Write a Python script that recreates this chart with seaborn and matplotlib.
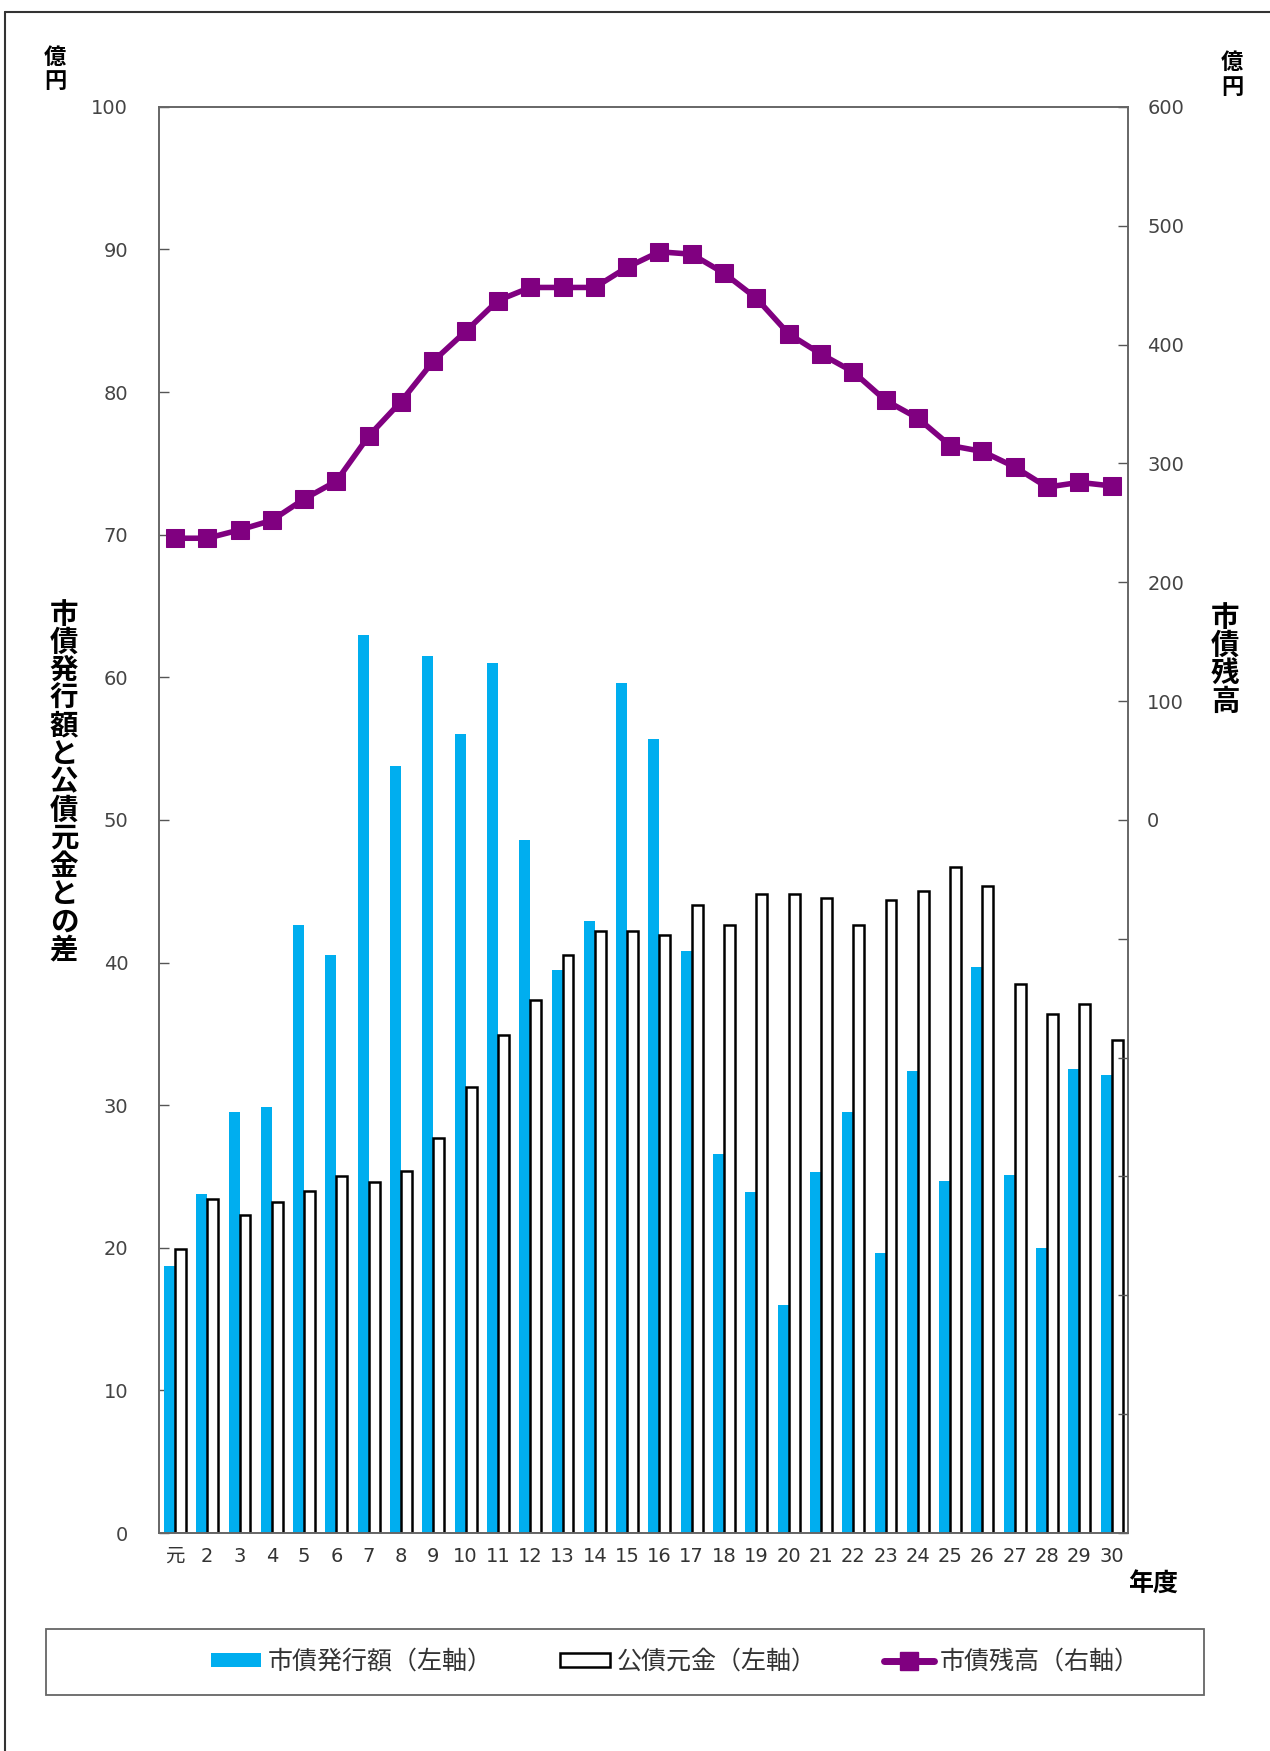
import numpy as np
import pandas as pd
import matplotlib
matplotlib.use("Agg")
import matplotlib.pyplot as plt
import seaborn as sns
from matplotlib.lines import Line2D
from matplotlib.patches import Patch, Rectangle

# 年度 labels (平成元年〜30年)
years = ["元"] + [str(i) for i in range(2, 31)]

# 市債発行額 (left axis, 億円)
issue = [18.7, 23.8, 29.5, 29.9, 42.6, 40.5, 63.0, 53.8, 61.5, 56.0,
         61.0, 48.6, 39.5, 42.9, 59.6, 55.7, 40.8, 26.6, 23.9, 16.0,
         25.3, 29.5, 19.6, 32.4, 24.7, 39.7, 25.1, 20.0, 32.5, 32.1]

# 公債元金 (left axis, 億円)
principal = [19.9, 23.4, 22.3, 23.2, 24.0, 25.0, 24.6, 25.4, 27.7, 31.3,
             34.9, 37.4, 40.5, 42.2, 42.2, 41.9, 44.0, 42.6, 44.8, 44.8,
             44.5, 42.6, 44.4, 45.0, 46.7, 45.4, 38.5, 36.4, 37.1, 34.6]

# 市債残高 (right axis, 億円)
balance = [237, 237, 244, 252, 270, 285, 323, 352, 386, 411,
           437, 448, 448, 448, 465, 478, 476, 460, 439, 409,
           392, 377, 353, 338, 315, 310, 297, 280, 284, 281]

s_issue = "市債発行額（左軸）"
s_princ = "公債元金（左軸）"
s_bal = "市債残高（右軸）"

BLUE = "#00AEEF"
PURPLE = "#800080"

sns.set_style("white")
plt.rcParams['font.family'] = ['DejaVu Sans', 'Noto Sans CJK JP']
jp = ['Noto Sans CJK JP', 'DejaVu Sans']

df = pd.DataFrame({
    "year": years * 2,
    "value": issue + principal,
    "series": [s_issue] * len(years) + [s_princ] * len(years),
})

fig = plt.figure(figsize=(12.7, 17.51), dpi=100)
ax = fig.add_axes([0.125, 0.1245, 0.763, 0.8145])

sns.barplot(data=df, x="year", y="value", hue="series", order=years,
            hue_order=[s_issue, s_princ], palette=[BLUE, "white"],
            width=0.68, dodge=True, legend=False, ax=ax, saturation=1)

n = len(years)
for i, p in enumerate(ax.patches[:2 * n]):
    if i < n:
        p.set_edgecolor("none")
    else:
        p.set_edgecolor("black")
        p.set_linewidth(1.8)

ax.set_xlim(-0.5, n - 0.5)
ax.set_ylim(0, 100)
ax.set_yticks(np.arange(0, 101, 10))
ax.set_xlabel("")
ax.set_ylabel("")
ax.tick_params(axis="y", direction="in", length=7, width=1, color="#555",
               labelsize=14, labelcolor="#444", pad=22)
ax.tick_params(axis="x", which="major", length=0, labelsize=14,
               labelcolor="#333", pad=10)
ax.set_xticks(np.arange(-0.5, n, 1), minor=True)
ax.tick_params(axis="x", which="minor", direction="in", length=4, color="#555")
for sp in ax.spines.values():
    sp.set_color("#666")
    sp.set_linewidth(1.2)

ax2 = ax.twinx()
sns.lineplot(x=np.arange(n), y=balance, ax=ax2, color=PURPLE, linewidth=4,
             marker="s", markersize=13, markeredgecolor=PURPLE)
ax2.set_ylim(-600, 600)
rt = np.arange(-600, 601, 100)
ax2.set_yticks(rt)
ax2.set_yticklabels([str(v) if v >= 0 else "" for v in rt])
ax2.tick_params(axis="y", direction="in", length=7, width=1, color="#555",
                labelsize=14, labelcolor="#444", pad=14)
for sp in ax2.spines.values():
    sp.set_color("#666")
    sp.set_linewidth(1.2)

# axis titles (vertical stacked text)
fig.text(0.0504, 0.553, "\n".join("市債発行額と公債元金との差"), family=jp,
         fontsize=20.5, fontweight="bold", color="black",
         ha="center", va="center", linespacing=1.0)
fig.text(0.9646, 0.623, "\n".join("市債残高"), family=jp,
         fontsize=20.5, fontweight="bold", color="black",
         ha="center", va="center", linespacing=1.0)
fig.text(0.0433, 0.974, "億\n円", family=jp, fontsize=16, fontweight="bold",
         color="black", ha="center", va="top", linespacing=1.1)
fig.text(0.970, 0.971, "億\n円", family=jp, fontsize=16, fontweight="bold",
         color="black", ha="center", va="top", linespacing=1.1)
fig.text(0.908, 0.095, "年度", family=jp, fontsize=18, fontweight="bold",
         color="black", ha="center", va="center")

# outer frame
fig.add_artist(Line2D([0.004, 0.004], [0.0, 0.993], color="#333", lw=1.5))
fig.add_artist(Line2D([0.004, 1.0], [0.993, 0.993], color="#333", lw=1.5))

# legend box
fig.add_artist(Rectangle((46 / 1270, 1 - 1695 / 1751), (1204 - 46) / 1270, 66 / 1751,
                         transform=fig.transFigure, fill=False, edgecolor="#666", lw=1.3))
handles = [
    Patch(facecolor=BLUE, edgecolor="none"),
    Patch(facecolor="white", edgecolor="black", linewidth=1.8),
    Line2D([0], [0], color=PURPLE, lw=5, marker="s", markersize=13),
]
leg = fig.legend(handles, [s_issue, s_princ, s_bal], loc="center",
                 bbox_to_anchor=(0.532, 1 - 1662 / 1751), ncol=3, frameon=False,
                 prop={"family": jp, "size": 18}, handlelength=2.0,
                 handleheight=0.5, handletextpad=0.25, columnspacing=2.7)
for t in leg.get_texts():
    t.set_color("#333")

fig.savefig("out.png", dpi=100)
